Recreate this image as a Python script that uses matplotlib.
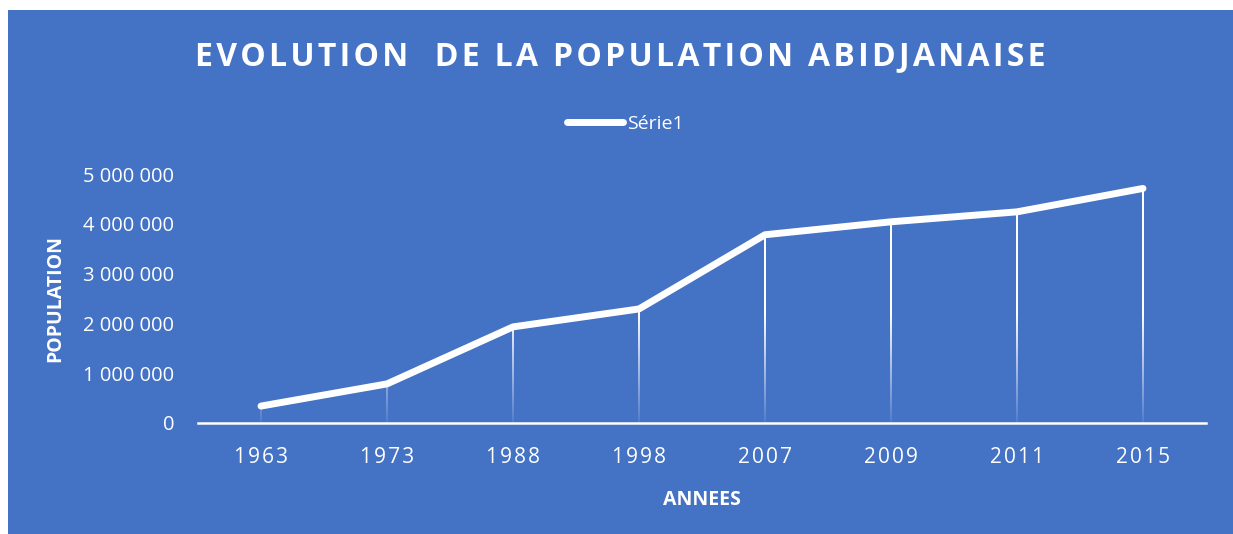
import matplotlib.pyplot as plt
import numpy as np
from matplotlib.patches import Rectangle

annees = ["1963", "1973", "1988", "1998", "2007", "2009", "2011", "2015"]
population = [340000, 785000, 1930000, 2290000, 3780000, 4040000, 4240000, 4710000]
yticks = [0, 1000000, 2000000, 3000000, 4000000, 5000000]

BLUE = "#4472C4"
HS = "\u200a"  # hair space, pour espacer les lettres


def spaced(s, n=1):
    return (HS * n).join(s)


plt.rcParams["font.family"] = ["Open Sans", "DejaVu Sans"]

fig = plt.figure(figsize=(12.33, 5.34), dpi=100, facecolor="white")
fig.patches.append(Rectangle((8 / 1233, 0), 1 - 8 / 1233, 1 - 10 / 534,
                             transform=fig.transFigure, facecolor=BLUE,
                             edgecolor="none", zorder=-10))

ax = fig.add_axes([198 / 1233, 111 / 534, 1008 / 1233, 249 / 534])
ax.set_facecolor("none")

x = np.arange(len(annees))

# lignes de projection avec dégradé (blanc en haut, transparent en bas)
for xi, yi in zip(x, population):
    ys = np.linspace(yi, 0, 200)
    a = np.clip(0.08 + 0.92 * ys / 2200000, 0, 1)
    img = np.ones((len(ys), 1, 4))
    img[:, 0, 3] = a
    ax.imshow(img, extent=(xi - 0.0075, xi + 0.0075, 0, yi), aspect="auto",
              interpolation="bilinear", zorder=2)

ax.plot(x, population, color="white", lw=5, solid_capstyle="round",
        solid_joinstyle="round", label="Série1", zorder=3)
ax.set_xlim(-0.5, len(annees) - 0.5)
ax.set_ylim(0, 5000000)

for s in ["top", "right", "left"]:
    ax.spines[s].set_visible(False)
ax.spines["bottom"].set_color("white")
ax.spines["bottom"].set_linewidth(1.8)

ax.set_xticks(x)
ax.set_xticklabels([spaced(a, 1) for a in annees], color="white", fontsize=15)
ax.set_yticks(yticks)
ax.set_yticklabels([f"{v:,}".replace(",", " ") for v in yticks], color="white", fontsize=14.5)
ax.tick_params(axis="both", length=0)
ax.tick_params(axis="x", pad=17)
ax.tick_params(axis="y", pad=17)

ax.set_xlabel("ANNEES", color="white", fontsize=14, fontweight="bold", labelpad=16)
ax.set_ylabel("POPULATION", color="white", fontsize=14, fontweight="bold")
ax.yaxis.set_label_coords(-0.132, 0.5)

fig.text(620 / 1233, 1 - 57 / 534, spaced("EVOLUTION  DE LA POPULATION ABIDJANAISE", 1),
         color="white", fontsize=23, fontweight="bold", ha="center", va="center")

leg = ax.legend(loc="center", bbox_to_anchor=(0.4236, 1.2), frameon=False,
                fontsize=14, handlelength=2.9, handletextpad=0.2)
for t in leg.get_texts():
    t.set_color("white")

fig.savefig("out.png", dpi=100, facecolor="white")
